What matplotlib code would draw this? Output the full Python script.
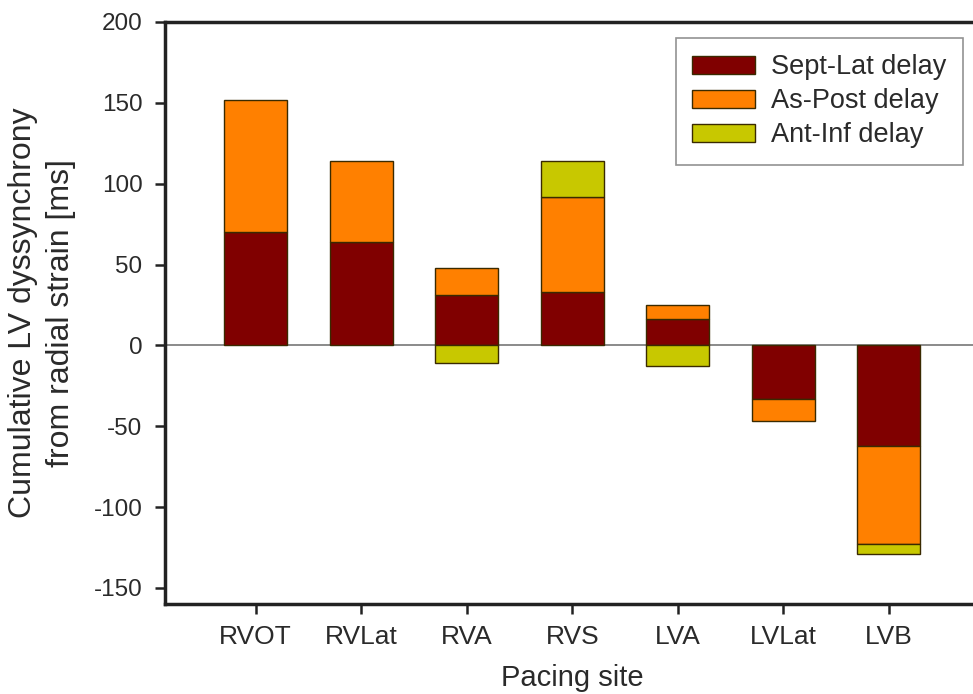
import numpy as np
import matplotlib
matplotlib.use("Agg")
import matplotlib.pyplot as plt

plt.rcParams['font.family'] = ['Liberation Sans', 'DejaVu Sans']
plt.rcParams['axes.unicode_minus'] = False

# 起搏部位及三类延迟 (ms)
sites = ["RVOT", "RVLat", "RVA", "RVS", "LVA", "LVLat", "LVB"]
sept_lat = [70, 64, 31, 33, 16, -33, -62]
as_post = [82, 50, 17, 59, 9, -14, -61]
ant_inf = [0, 0, -11, 22, -13, 0, -6]

series = [
    ("Sept-Lat delay", sept_lat, "#800000"),
    ("As-Post delay", as_post, "#ff8000"),
    ("Ant-Inf delay", ant_inf, "#c8c800"),
]

fig = plt.figure(figsize=(9.73, 6.94), dpi=100)
ax = fig.add_axes([165 / 973, 90 / 694, 814.5 / 973, 582 / 694])

x = np.arange(len(sites))
pos_base = np.zeros(len(sites))
neg_base = np.zeros(len(sites))

# 正负分开堆叠
for label, vals, color in series:
    vals = np.array(vals, dtype=float)
    bottoms = np.where(vals >= 0, pos_base, neg_base)
    keep = vals != 0
    ax.bar(x[keep], vals[keep], bottom=bottoms[keep], width=0.6,
           color=color, edgecolor="#3a2a00", linewidth=1.0, label=label, zorder=3)
    pos_base += np.where(vals > 0, vals, 0)
    neg_base += np.where(vals < 0, vals, 0)

ax.axhline(0, color="#777777", linewidth=1.2, zorder=1)

ax.set_xlim(-0.86, 6.86)
ax.set_ylim(-160, 200)
ax.set_yticks(np.arange(-150, 201, 50))
ax.set_xticks(x)
ax.set_xticklabels(sites)

for s in ax.spines.values():
    s.set_linewidth(2.5)
    s.set_color("#222222")

ax.tick_params(axis="both", direction="out", length=7.2, width=1.8,
               color="#222222", labelcolor="#2a2a2a")
ax.tick_params(axis="x", pad=8, labelsize=19)
ax.tick_params(axis="y", pad=9, labelsize=17.5)

ax.set_xlabel("Pacing site", fontsize=21, color="#2a2a2a", labelpad=11)
ax.set_ylabel("Cumulative LV dyssynchrony\nfrom radial strain [ms]",
              fontsize=23, color="#2a2a2a", linespacing=1.35)
ax.yaxis.set_label_coords(-0.109, 0.5)

leg = ax.legend(loc="upper right", bbox_to_anchor=(963 / 973, 1 - 38 / 694),
                bbox_transform=fig.transFigure, fontsize=19.5, frameon=True,
                fancybox=False, edgecolor="#777777", handlelength=2.33,
                handleheight=0.67, labelspacing=0.3, borderpad=0.6,
                handletextpad=0.6, borderaxespad=0)
leg.get_frame().set_linewidth(1.2)
for t in leg.get_texts():
    t.set_color("#2a2a2a")

fig.savefig("out.png", dpi=100)
